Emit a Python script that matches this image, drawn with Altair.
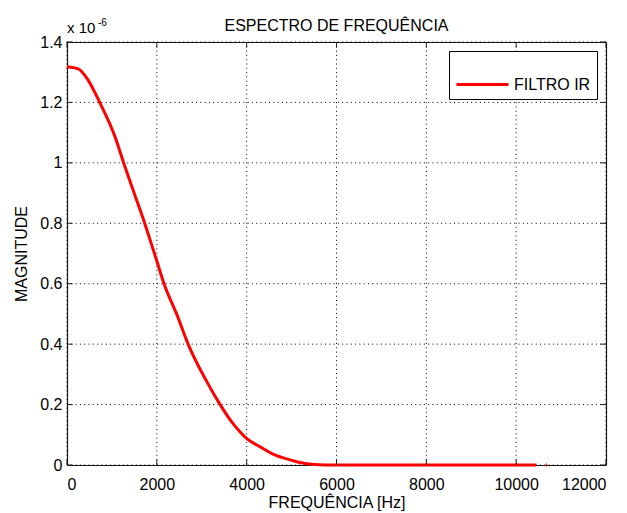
import altair as alt
import pandas as pd

FONT = "Liberation Sans"

# Frequency response (magnitude in units of 1e-6)
freq = [0, 250, 470, 735, 1070, 1270, 1500, 1750, 1850, 2000, 2160,
        2440, 2720, 3060, 3430, 3680, 3990, 4300, 4600, 4970, 5190, 5500,
        6000, 7000, 8000, 9000, 10000, 10450]
mag = [1.318, 1.311, 1.274, 1.198, 1.086, 0.996, 0.898, 0.791, 0.745, 0.675,
       0.60, 0.50, 0.392, 0.29, 0.195, 0.14, 0.089, 0.06, 0.035,
       0.017, 0.008, 0.002, 0.0, 0.0, 0.0, 0.0, 0.0, 0.0]
tail_freq = [10660, 10685]
tail_mag = [0.0, 0.0]
series = "FILTRO IR"
title_text = "ESPECTRO DE FREQUÊNCIA"

x_ticks = [0, 2000, 4000, 6000, 8000, 10000, 12000]
y_ticks = [0, 0.2, 0.4, 0.6, 0.8, 1.0, 1.2, 1.4]

W, H = 539, 423
TICK = 5.5
FRAME = "#1a1a1a"
DOT = [1, 3.3]

df = pd.DataFrame({
    "f": freq + tail_freq,
    "m": mag + tail_mag,
    "seg": [0] * len(freq) + [1] * len(tail_freq),
    "s": [series] * (len(freq) + len(tail_freq)),
})
dfx = pd.DataFrame({"f": x_ticks})
dfy = pd.DataFrame({"m": y_ticks})

xs = alt.Scale(domain=[0, 12000], nice=False, zero=False)
ys = alt.Scale(domain=[0, 1.4], nice=False, zero=False)

common = dict(grid=False, ticks=False, domain=True, domainColor=FRAME,
              domainWidth=1.2, labelFont=FONT, titleFont=FONT,
              labelFontSize=16, titleFontSize=16, titleFontWeight="normal",
              labelColor="black", titleColor="black")

x_axis = alt.Axis(values=x_ticks, format="d", labelPadding=11,
                  title="FREQUÊNCIA [Hz]", titleY=42,
                  titleBaseline="alphabetic", orient="bottom", **common)
y_axis = alt.Axis(values=y_ticks, format="~g", labelPadding=5,
                  title="MAGNITUDE", titleX=-41, titleBaseline="alphabetic",
                  orient="left", **common)
x_top = alt.Axis(values=x_ticks, labels=False, title=None, orient="top", **common)
y_right = alt.Axis(values=y_ticks, labels=False, title=None, orient="right", **common)

# dotted grid from the tick values
gx = alt.Chart(dfx).mark_rule(color="black", strokeDash=DOT, strokeWidth=1).encode(
    x=alt.X("f:Q", scale=xs, axis=None), y=alt.value(0), y2=alt.value(H))
gy = alt.Chart(dfy).mark_rule(color="black", strokeDash=DOT, strokeWidth=1).encode(
    y=alt.Y("m:Q", scale=ys, axis=None), x=alt.value(0), x2=alt.value(W))

line = alt.Chart(df).mark_line(strokeWidth=3, interpolate="monotone").encode(
    x=alt.X("f:Q", scale=xs, axis=x_axis),
    y=alt.Y("m:Q", scale=ys, axis=y_axis),
    color=alt.Color("s:N", scale=alt.Scale(range=["#ff0000"]),
                    legend=alt.Legend(title=None, orient="top-right", offset=9,
                                      padding=6, strokeColor="black",
                                      fillColor="white", symbolType="stroke",
                                      symbolSize=2704, symbolStrokeWidth=3,
                                      labelFontSize=16, labelFont=FONT,
                                      labelColor="black", labelOffset=4)),
    detail="seg:N",
)

# inward ticks on all four sides (top/right layers also carry the box edges)
tb = alt.Chart(dfx).mark_rule(color=FRAME).encode(
    x=alt.X("f:Q", scale=xs, axis=None), y=alt.value(H), y2=alt.value(H - TICK))
tt = alt.Chart(dfx).mark_rule(color=FRAME).encode(
    x=alt.X("f:Q", scale=xs, axis=x_top), y=alt.value(0), y2=alt.value(TICK))
tl = alt.Chart(dfy).mark_rule(color=FRAME).encode(
    y=alt.Y("m:Q", scale=ys, axis=None), x=alt.value(0), x2=alt.value(TICK))
tr = alt.Chart(dfy).mark_rule(color=FRAME).encode(
    y=alt.Y("m:Q", scale=ys, axis=y_right), x=alt.value(W), x2=alt.value(W - TICK))

mult = alt.Chart(pd.DataFrame({"t": ["x 10"]})).mark_text(
    align="left", baseline="alphabetic", fontSize=15, font=FONT, color="black"
).encode(x=alt.value(0), y=alt.value(-9), text="t:N")
expo = alt.Chart(pd.DataFrame({"t": ["-6"]})).mark_text(
    align="left", baseline="alphabetic", fontSize=10, font=FONT, color="black"
).encode(x=alt.value(31), y=alt.value(-16), text="t:N")
ttl = alt.Chart(pd.DataFrame({"t": [title_text]})).mark_text(
    align="center", baseline="alphabetic", fontSize=16, font=FONT, color="black"
).encode(x=alt.value(W / 2), y=alt.value(-11), text="t:N")

chart = alt.layer(gx, gy, line, tb, tt, tl, tr,
                  mult, expo, ttl).resolve_axis(
    x="independent", y="independent"
).properties(
    width=W, height=H,
    background="white",
    autosize=alt.AutoSizeParams(type="none"),
    padding={"left": 59, "top": 34, "right": 13, "bottom": 46},
).configure_view(strokeWidth=0)

chart.save("out.html", embed_options={"renderer": "svg", "actions": False})
